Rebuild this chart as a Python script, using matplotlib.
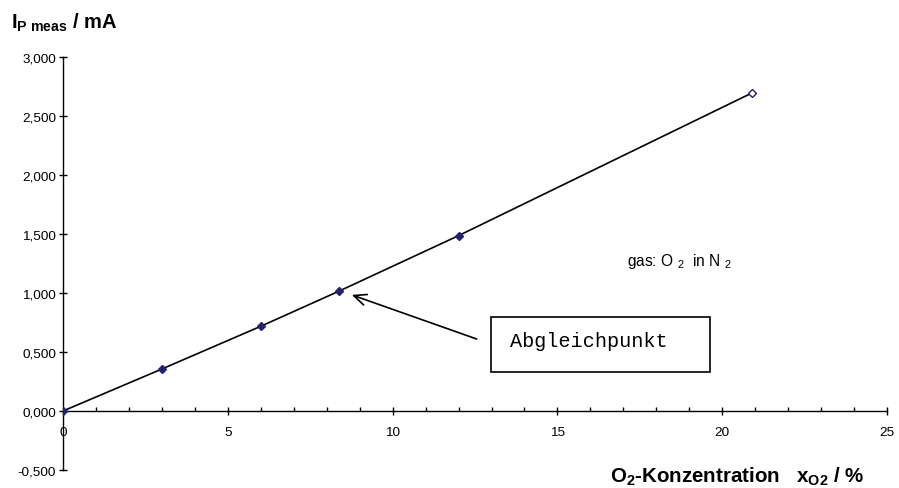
import matplotlib
matplotlib.use("Agg")
import matplotlib.pyplot as plt
from matplotlib.patches import Rectangle
from matplotlib.ticker import FuncFormatter, MultipleLocator

plt.rcParams['font.family'] = ['Liberation Sans', 'DejaVu Sans']
plt.rcParams['mathtext.fontset'] = 'custom'
plt.rcParams['mathtext.rm'] = 'Liberation Sans'
plt.rcParams['mathtext.it'] = 'Liberation Sans:italic'
plt.rcParams['mathtext.bf'] = 'Liberation Sans:bold'

# Messwerte O2 in N2
x_o2 = [0, 3, 6, 8.36, 12, 20.9]
i_meas = [0, 0.356, 0.718, 1.014, 1.486, 2.695]
abgleich_x = 8.36
abgleich_y = 1.014

fig = plt.figure(figsize=(8.99, 4.89), dpi=100)
ax = fig.add_axes([0.0701, 0.0368, 0.9166, 0.8446])

ax.plot(x_o2, i_meas, color='black', lw=1.2, zorder=2)
ax.plot(x_o2[:-1], i_meas[:-1], ls='none', marker='D', ms=4.5,
        color='#22226e', zorder=3)
ax.plot(x_o2[-1:], i_meas[-1:], ls='none', marker='D', ms=4.5,
        mfc='white', mec='#22226e', mew=1, zorder=3)

ax.set_xlim(0, 25)
ax.set_ylim(-0.5, 3.0)
ax.spines['top'].set_visible(False)
ax.spines['right'].set_visible(False)
ax.spines['bottom'].set_position(('data', 0))
ax.spines['left'].set_linewidth(1)
ax.spines['bottom'].set_linewidth(1)

ax.xaxis.set_major_locator(MultipleLocator(5))
ax.xaxis.set_minor_locator(MultipleLocator(1))
ax.yaxis.set_major_locator(MultipleLocator(0.5))
ax.yaxis.set_major_formatter(FuncFormatter(lambda v, p: f"{v:.3f}".replace('.', ',')))
ax.tick_params(axis='both', which='major', direction='inout', length=6,
               width=1, labelsize=9.7)
ax.tick_params(axis='x', which='major', pad=8)
ax.tick_params(axis='y', which='major', pad=2)
ax.tick_params(axis='x', which='minor', direction='in', length=3, width=1)

fig.text(0.012, 0.953, r"I$_{\mathbf{P\ meas}}$ / mA", fontsize=14.5,
         fontweight='bold', ha='left', va='center')
fig.text(0.678, 0.024, r"O$_{\mathbf{2}}$-Konzentration   x$_{\mathbf{O2}}$ / %",
         fontsize=14.8, fontweight='bold', ha='left', va='center')

ax.text(17.1, 1.275, r"gas: O $_2$  in N $_2$", fontsize=11.2, ha='left', va='center')

# Kasten und Pfeil zum Abgleichpunkt
ax.add_patch(Rectangle((12.97, 0.331), 6.67, 0.466, fc='white', ec='black',
                       lw=1.2, zorder=4))
ax.text(13.55, 0.60, "Abgleichpunkt", fontsize=14.5, family='Liberation Mono',
        ha='left', va='center', zorder=5)
ax.annotate("", xy=(abgleich_x + 0.4, abgleich_y - 0.03), xytext=(12.55, 0.61),
            arrowprops=dict(arrowstyle='->,head_length=0.9,head_width=0.4',
                            color='black', lw=1.2, shrinkA=0, shrinkB=0))

fig.savefig("out.png", dpi=100)
